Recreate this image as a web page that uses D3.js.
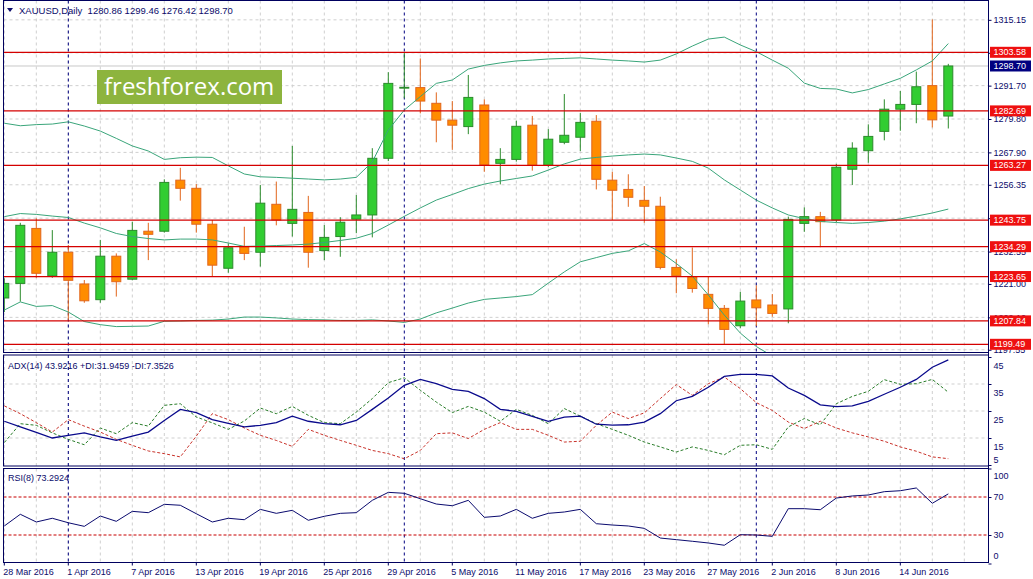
<!DOCTYPE html>
<html>
<head>
<meta charset="utf-8">
<script src="https://cdn.jsdelivr.net/npm/d3@7"></script>
<style>
  body { margin: 0; background: #fff; }
  text { font-family: "Liberation Sans", Arial, sans-serif; }
</style>
</head>
<body>
<div id="chart"></div>
<script>
// daily bars, XAUUSD
var dates = ["28 Mar 2016","29 Mar 2016","30 Mar 2016","31 Mar 2016","1 Apr 2016","4 Apr 2016","5 Apr 2016","6 Apr 2016","7 Apr 2016","8 Apr 2016",
  "11 Apr 2016","12 Apr 2016","13 Apr 2016","14 Apr 2016","15 Apr 2016","18 Apr 2016","19 Apr 2016","20 Apr 2016","21 Apr 2016","22 Apr 2016",
  "25 Apr 2016","26 Apr 2016","27 Apr 2016","28 Apr 2016","29 Apr 2016","2 May 2016","3 May 2016","4 May 2016","5 May 2016","6 May 2016",
  "9 May 2016","10 May 2016","11 May 2016","12 May 2016","13 May 2016","16 May 2016","17 May 2016","18 May 2016","19 May 2016","20 May 2016",
  "23 May 2016","24 May 2016","25 May 2016","26 May 2016","27 May 2016","30 May 2016","31 May 2016","1 Jun 2016","2 Jun 2016","3 Jun 2016",
  "6 Jun 2016","7 Jun 2016","8 Jun 2016","9 Jun 2016","10 Jun 2016","13 Jun 2016","14 Jun 2016","15 Jun 2016","16 Jun 2016","17 Jun 2016"]

var opens = [1216.0,1221.2,1240.8,1223.9,1232.3,1221.0,1215.4,1230.9,1222.7,1239.8,
  1239.8,1258.0,1255.1,1242.3,1226.6,1234.3,1232.3,1249.4,1242.6,1246.5,
  1232.9,1237.9,1244.1,1245.6,1265.8,1290.8,1291.0,1285.4,1279.4,1277.1,
  1284.8,1264.0,1265.4,1277.6,1263.3,1271.5,1273.3,1279.0,1258.0,1254.7,
  1250.8,1248.7,1226.9,1223.6,1217.3,1212.3,1206.1,1215.3,1213.5,1212.1,
  1242.6,1245.0,1243.8,1261.9,1268.5,1275.4,1283.3,1285.0,1291.7,1280.86]
var highs = [1223.0,1242.8,1244.4,1240.2,1234.9,1222.4,1236.7,1231.9,1243.2,1242.8,
  1258.3,1262.4,1256.6,1243.8,1235.5,1241.4,1256.3,1257.5,1270.2,1252.4,
  1242.0,1244.8,1252.7,1269.4,1296.5,1303.4,1301.4,1289.3,1286.2,1295.5,
  1286.8,1269.4,1279.2,1280.9,1276.2,1288.7,1282.0,1281.2,1261.0,1260.1,
  1255.9,1252.1,1229.8,1234.0,1223.6,1213.5,1218.2,1220.5,1217.4,1245.0,
  1248.3,1246.7,1263.8,1271.5,1277.9,1286.8,1289.8,1296.7,1315.3,1299.46]
var lows = [1211.0,1214.7,1223.2,1223.2,1208.2,1214.3,1214.3,1216.5,1222.3,1229.5,
  1239.3,1250.7,1239.3,1223.7,1225.0,1229.5,1227.2,1241.9,1237.9,1226.8,
  1229.5,1230.7,1239.1,1237.6,1264.8,1287.2,1281.8,1271.5,1268.8,1274.4,
  1261.0,1256.5,1264.6,1261.4,1262.6,1270.8,1268.4,1254.7,1243.8,1248.5,
  1242.8,1226.2,1217.7,1217.9,1206.6,1199.6,1205.2,1206.0,1209.3,1207.0,
  1239.6,1234.1,1243.0,1256.3,1264.2,1272.2,1275.6,1278.3,1276.8,1276.42]
var closes = [1221.2,1241.9,1224.8,1232.3,1222.3,1215.0,1230.9,1221.8,1240.1,1238.7,
  1257.2,1255.1,1242.3,1227.7,1233.9,1231.9,1249.8,1243.8,1247.6,1232.3,
  1237.6,1243.0,1245.6,1265.8,1292.5,1291.1,1286.2,1279.4,1277.6,1287.5,
  1263.4,1265.4,1277.2,1263.3,1272.6,1274.0,1278.6,1258.3,1254.4,1251.9,
  1248.7,1226.9,1223.9,1219.4,1212.3,1204.8,1214.9,1212.5,1210.5,1244.0,
  1245.0,1243.2,1262.6,1269.4,1273.6,1283.3,1285.0,1291.3,1279.5,1298.70]

// Bollinger bands
var bbUpper = [1278.3,1277.4,1277.8,1278.0,1278.8,1277.3,1275.5,1272.9,1270.2,1268.4,
  1265.4,1266.0,1266.2,1266.1,1263.1,1260.2,1259.2,1259.0,1258.7,1258.4,
  1258.1,1258.4,1259.0,1264.5,1275.9,1283.0,1287.8,1292.5,1293.7,1297.6,
  1298.9,1299.8,1300.5,1300.8,1301.2,1301.4,1301.6,1301.2,1300.8,1300.5,
  1300.1,1300.8,1303.0,1305.8,1308.3,1309.0,1306.2,1303.8,1300.8,1297.9,
  1292.6,1290.7,1290.5,1289.1,1290.3,1292.3,1294.3,1297.3,1300.5,1306.7]
var bbMiddle = [1245.0,1246.1,1245.8,1245.2,1244.7,1242.7,1241.0,1239.0,1237.9,1237.2,
  1236.7,1237.0,1237.0,1236.7,1235.6,1234.4,1234.5,1234.7,1234.9,1235.2,
  1235.8,1236.5,1237.3,1239.0,1242.0,1245.1,1248.1,1250.9,1252.9,1255.0,
  1256.6,1257.7,1258.6,1259.5,1261.6,1263.8,1265.5,1266.1,1266.6,1267.0,
  1267.3,1267.0,1265.9,1264.7,1262.3,1258.1,1254.5,1250.9,1248.1,1245.6,
  1244.3,1243.3,1242.9,1242.6,1242.9,1243.4,1244.2,1245.2,1246.3,1247.7]
var bbLower = [1211.7,1214.6,1213.0,1213.3,1211.0,1207.6,1206.5,1205.8,1205.9,1206.0,
  1207.7,1207.8,1208.0,1208.1,1208.5,1209.2,1209.2,1208.9,1208.5,1208.3,
  1208.2,1208.0,1208.0,1208.2,1207.8,1207.3,1208.5,1210.7,1212.4,1214.2,
  1215.5,1216.0,1216.5,1217.2,1221.3,1225.3,1228.9,1230.4,1231.9,1232.8,
  1235.4,1232.4,1228.3,1223.8,1217.1,1209.9,1203.5,1198.7,1195.3,1193.3,
  1196.0,1195.8,1195.3,1196.2,1195.5,1194.6,1194.0,1193.2,1192.1,1188.7]

// ADX(14)
var adxMain = [21.2,19.1,17.1,15.0,16.0,16.9,15.4,14.1,15.7,17.2,
  21.5,25.6,24.4,21.8,20.4,19.1,19.7,20.7,23.1,21.2,
  20.3,19.9,21.5,25.6,29.8,34.5,36.7,35.1,33.0,32.3,
  29.6,25.6,24.9,23.0,21.2,22.7,23.1,20.1,19.8,19.9,
  20.9,24.0,28.8,30.4,33.8,37.8,38.6,38.6,38.0,33.5,
  30.8,27.3,26.6,26.9,28.6,31.2,33.8,36.7,41.2,43.92]
var plusDI = [13.3,20.3,19.7,16.9,14.5,12.5,18.7,16.6,20.7,19.4,
  27.1,27.7,22.8,20.6,18.2,21.3,26.1,24.0,26.7,23.4,
  20.7,20.3,24.6,29.6,35.5,37.3,32.7,28.3,24.4,26.7,
  24.6,21.2,25.6,23.4,20.3,25.9,23.1,20.3,18.2,16.0,
  13.5,11.7,9.8,11.7,10.4,8.8,12.3,12.5,10.8,19.1,
  22.2,19.9,27.7,30.4,32.3,36.6,34.9,35.1,36.7,31.95]
var minusDI = [26.9,24.0,20.7,17.2,21.8,19.4,17.2,14.5,12.3,10.2,
  9.2,8.0,15.7,24.0,21.8,18.7,16.0,14.1,11.9,18.2,
  16.0,14.1,12.3,10.4,9.2,7.3,10.4,16.6,16.9,14.8,
  18.2,20.7,18.2,18.2,16.0,13.5,13.8,19.7,24.6,22.2,
  24.3,29.6,34.8,30.8,35.1,37.6,33.3,28.1,25.2,20.9,
  18.5,21.2,18.7,16.9,15.4,13.8,11.7,10.1,8.0,7.35]

// RSI(8)
var rsi = [39.5,51.8,43.7,47.6,42.9,39.1,50.0,44.4,54.9,53.5,
  62.3,61.3,52.4,43.7,47.6,46.1,57.0,52.8,56.0,45.5,
  49.7,52.8,53.5,66.5,74.9,73.9,68.2,62.6,60.8,66.5,
  48.6,50.0,57.0,47.6,52.8,54.2,57.0,41.9,40.5,39.5,
  37.0,26.8,25.1,23.4,21.6,19.2,30.3,30.0,28.6,57.7,
  57.7,56.6,68.9,71.1,72.1,75.6,76.6,79.5,63.4,73.29]

var levels = [1303.58, 1282.69, 1263.27, 1243.75, 1234.29, 1223.65, 1207.84, 1199.49]
var lastPrice = 1298.70
var priceTicks = [1315.15, 1303.40, 1291.70, 1279.80, 1267.90, 1256.35, 1244.45, 1232.55, 1221.00, 1209.10, 1197.55]
var adxTicks = [45, 35, 25, 15, 5]
var rsiTicks = [100, 70, 30, 0]
var rsiLevels = [70, 30]
var dateTicks = ["28 Mar 2016","1 Apr 2016","7 Apr 2016","13 Apr 2016","19 Apr 2016","25 Apr 2016","29 Apr 2016","5 May 2016",
  "11 May 2016","17 May 2016","23 May 2016","27 May 2016","2 Jun 2016","8 Jun 2016","14 Jun 2016"]
var separators = ["1 Apr 2016", "2 May 2016", "1 Jun 2016"]

var svgWidth = 1033
var svgHeight = 579
var left = 3.5, right = 988.5
var main = {top: 0.5, bottom: 352.5}
var adxP = {top: 355, bottom: 466}
var rsiP = {top: 468.5, bottom: 562.5}
var frameColor = "#00005e"
var textColor = "#0b0b6b"

var svg = d3.select("#chart").append("svg")
  .attr("width", svgWidth)
  .attr("height", svgHeight)
  .style("display", "block")

var bars = dates.map(function(d, i) {
  return {date: d, o: opens[i], h: highs[i], l: lows[i], c: closes[i]}
})

// scales
var x = d3.scaleBand().domain(dates).range([-3.7, -3.7 + 16 * dates.length])
var xc = function(d) { return x(d) + x.bandwidth() / 2 }
var y = d3.scaleLinear().domain([1196.57, 1321.51]).range([main.bottom, 2])
var adxY = d3.scaleLinear().domain([35, 15]).range([384, 438])
var rsiY = d3.scaleLinear().domain([0, 100]).range([563.5, 468.5])

// clip paths
var defs = svg.append("defs")
;[["clipMain", main], ["clipAdx", adxP], ["clipRsi", rsiP]].forEach(function(c) {
  defs.append("clipPath").attr("id", c[0]).append("rect")
    .attr("x", left).attr("y", c[1].top)
    .attr("width", right - left).attr("height", c[1].bottom - c[1].top)
})

var gMain = svg.append("g").attr("clip-path", "url(#clipMain)")
var gAdx = svg.append("g").attr("clip-path", "url(#clipAdx)")
var gRsi = svg.append("g").attr("clip-path", "url(#clipRsi)")

// vertical grid every second bar
var gridX = d3.range(0, 32).map(function(k) { return x.range()[0] + x.step() / 2 + 2 * x.step() * k })
;[[gMain, main], [gAdx, adxP], [gRsi, rsiP]].forEach(function(p) {
  p[0].selectAll(".vgrid").data(gridX).enter().append("line")
    .attr("x1", d => d).attr("x2", d => d)
    .attr("y1", p[1].top).attr("y2", p[1].bottom)
    .attr("stroke", "#cfcfcf").attr("stroke-dasharray", "3,3")
})

// horizontal grid
gMain.selectAll(".hgrid").data(priceTicks).enter().append("line")
  .attr("x1", left).attr("x2", right)
  .attr("y1", d => y(d)).attr("y2", d => y(d))
  .attr("stroke", "#cfcfcf").attr("stroke-dasharray", "3,3")
gAdx.selectAll(".hgrid").data([35, 25, 15]).enter().append("line")
  .attr("x1", left).attr("x2", right)
  .attr("y1", d => adxY(d)).attr("y2", d => adxY(d))
  .attr("stroke", "#cfcfcf").attr("stroke-dasharray", "3,3")

// period separators
;[[gMain, main], [gAdx, adxP], [gRsi, rsiP]].forEach(function(p) {
  p[0].selectAll(".sep").data(separators).enter().append("line")
    .attr("x1", d => xc(d)).attr("x2", d => xc(d))
    .attr("y1", p[1].top).attr("y2", p[1].bottom)
    .attr("stroke", "#000080").attr("stroke-dasharray", "3,3")
})

// last price line
gMain.append("line")
  .attr("x1", left).attr("x2", right)
  .attr("y1", y(lastPrice)).attr("y2", y(lastPrice))
  .attr("stroke", "#c8c8c8")

// watermark
gMain.append("rect").attr("x", 97).attr("y", 70).attr("width", 185).attr("height", 34).attr("fill", "#8db43e")
gMain.append("text").attr("x", 104).attr("y", 95)
  .style("font-family", "'Open Sans', sans-serif").style("font-size", "24px")
  .attr("fill", "#fff").text("freshforex.com")

// candles
var up = {fill: "#32cd32", line: "#2b8a2b"}
var down = {fill: "#ff8c00", line: "#e2661c"}
var candle = gMain.selectAll(".candle").data(bars).enter().append("g")
candle.append("line")
  .attr("x1", d => xc(d.date)).attr("x2", d => xc(d.date))
  .attr("y1", d => y(d.h)).attr("y2", d => y(d.l))
  .attr("stroke", d => d.c >= d.o ? up.line : down.line)
candle.append("rect")
  .attr("x", d => xc(d.date) - 4.5)
  .attr("width", 9)
  .attr("y", d => y(Math.max(d.o, d.c)))
  .attr("height", d => Math.max(0.5, Math.abs(y(d.o) - y(d.c))))
  .attr("fill", d => d.c >= d.o ? up.fill : down.fill)
  .attr("stroke", d => d.c >= d.o ? up.line : down.line)

// bollinger bands
;[bbUpper, bbMiddle, bbLower].forEach(function(band) {
  gMain.append("path")
    .datum(band)
    .attr("fill", "none").attr("stroke", "#3aa57a").attr("stroke-width", 1)
    .attr("d", d3.line().x((d, i) => xc(dates[i])).y(d => y(d)))
})

// horizontal levels
gMain.selectAll(".level").data(levels).enter().append("line")
  .attr("x1", left).attr("x2", right)
  .attr("y1", d => y(d)).attr("y2", d => y(d))
  .attr("stroke", "#d40000").attr("stroke-width", 1.2)

// ADX lines
var adxLine = d3.line().x((d, i) => xc(dates[i])).y(d => adxY(d))
gAdx.append("path").datum(minusDI).attr("fill", "none").attr("stroke", "#c8322a")
  .attr("stroke-dasharray", "3,2").attr("d", adxLine)
gAdx.append("path").datum(plusDI).attr("fill", "none").attr("stroke", "#2a7d2a")
  .attr("stroke-dasharray", "3,2").attr("d", adxLine)
gAdx.append("path").datum(adxMain).attr("fill", "none").attr("stroke", "#0a0a8c")
  .attr("stroke-width", 1.3).attr("d", adxLine)

// RSI
gRsi.selectAll(".rlevel").data(rsiLevels).enter().append("line")
  .attr("x1", left).attr("x2", right)
  .attr("y1", d => rsiY(d)).attr("y2", d => rsiY(d))
  .attr("stroke", "#c80000").attr("stroke-width", 1.2).attr("stroke-dasharray", "3,2")
gRsi.append("path").datum(rsi).attr("fill", "none").attr("stroke", "#0a0a6e")
  .attr("d", d3.line().x((d, i) => xc(dates[i])).y(d => rsiY(d)))

// panel frames
;[main, adxP, rsiP].forEach(function(p) {
  svg.append("rect").attr("x", left).attr("y", p.top)
    .attr("width", right - left).attr("height", p.bottom - p.top)
    .attr("fill", "none").attr("stroke", frameColor)
})

// price axis
var priceAxis = svg.append("g").attr("transform", `translate(${right}, 0)`)
  .call(d3.axisRight(y).tickValues(priceTicks).tickFormat(d3.format(".2f")).tickSize(3).tickPadding(2))
// labels that sit fully behind a level box are not drawn (they are hidden in the terminal too)
priceAxis.selectAll(".tick text")
  .filter(d => levels.some(l => Math.abs(y(l) - y(d)) < 3))
  .remove()
var adxAxis = svg.append("g").attr("transform", `translate(${right}, 0)`)
  .call(d3.axisRight(adxY).tickValues(adxTicks).tickFormat(d3.format("d")).tickSize(3).tickPadding(2))
adxAxis.selectAll(".tick text")
  .attr("y", d => Math.min(460, Math.max(363, adxY(d) + 8.5)) - adxY(d))
var rsiAxis = svg.append("g").attr("transform", `translate(${right}, 0)`)
  .call(d3.axisRight(rsiY).tickValues(rsiTicks).tickFormat(d3.format("d")).tickSize(3).tickPadding(2))
rsiAxis.selectAll(".tick text")
  .attr("y", d => Math.min(556, Math.max(475.5, rsiY(d))) - rsiY(d))

// date axis
var dateAxis = svg.append("g").attr("transform", `translate(0, ${rsiP.bottom})`)
  .call(d3.axisBottom(x).tickValues(dateTicks).tickSize(3).tickPadding(3))
dateAxis.selectAll(".tick text").attr("text-anchor", "start").attr("x", -1)

;[priceAxis, adxAxis, rsiAxis, dateAxis].forEach(function(a) {
  a.select(".domain").remove()
  a.selectAll(".tick line").attr("stroke", frameColor)
  a.selectAll(".tick text").attr("fill", textColor).style("font-size", "9px")
    .style("font-family", "'Liberation Sans', Arial, sans-serif")
})
svg.append("line").attr("x1", right).attr("x2", right).attr("y1", 0).attr("y2", rsiP.bottom)
  .attr("stroke", frameColor)

// level price boxes
var boxes = svg.append("g")
levels.concat([lastPrice]).forEach(function(v) {
  boxes.append("rect").attr("x", right + 1.5).attr("y", y(v) - 5.5)
    .attr("width", 41).attr("height", 11)
    .attr("fill", v === lastPrice ? "#000080" : "#ee1010")
  boxes.append("text").attr("x", right + 5).attr("y", y(v)).attr("dy", "0.33em")
    .attr("fill", "#fff").style("font-size", "9px").text(d3.format(".2f")(v))
})

// window captions
svg.append("path").attr("d", "M7,8 L13,8 L10,12 Z").attr("fill", textColor)
svg.append("text").attr("x", 19).attr("y", 14).attr("fill", textColor).style("font-size", "9.5px")
  .attr("xml:space", "preserve")
  .text("XAUUSD,Daily  1280.86 1299.46 1276.42 1298.70")
svg.append("text").attr("x", 8).attr("y", 368.5).attr("fill", textColor).style("font-size", "9px")
  .text("ADX(14) 43.9216 +DI:31.9459 -DI:7.3526")
svg.append("text").attr("x", 8).attr("y", 481).attr("fill", textColor).style("font-size", "9px")
  .text("RSI(8) 73.2924")
</script>
</body>
</html>
